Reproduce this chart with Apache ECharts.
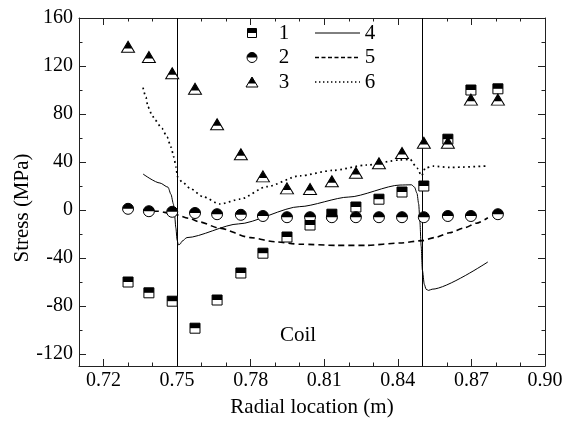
<!DOCTYPE html>
<html>
<head>
<meta charset="utf-8">
<script src="https://cdn.jsdelivr.net/npm/echarts@6/dist/echarts.min.js"></script>
<style>html,body{margin:0;padding:0;background:#fff}#c{width:566px;height:425px}</style>
</head>
<body>
<div id="c"></div>
<script>
// ---- data ----
const radialX = [0.7300,0.7385,0.7480,0.7573,0.7663,0.7760,0.7850,0.7948,0.8042,0.8131,0.8229,0.8323,0.8417,0.8506,0.8604,0.8698,0.8808];
const stress1 = [-60,-69,-76,-98.5,-75,-52.5,-36,-22.5,-12.5,-3.5,2.5,9,15,20,59,100,101];
const stress2 = [1,-1,-1.5,-2.5,-3.5,-4,-5,-6,-6,-6,-6,-6,-6,-6,-5,-5,-3.5];
const stress3 = [136,127.5,114,101,71.5,46.5,28,18,17.5,24,31,39,47.5,56,56,92,92];

const line4X = [0.7361,0.743,0.7463,0.7475,0.7485,0.749,0.7495,0.7500,0.7505,0.7512,0.752,0.754,0.775,0.800,0.820,0.8409,0.8456,0.8468,0.8478,0.8485,0.8490,0.8495,0.8500,0.8508,0.8515,0.8525,0.854,0.8767];
const line4Y = [30,22.5,19,13,5,-5,-15,-25,-29,-28.5,-26,-23,-11.6,2.8,10.8,20.8,21,19,14,5,-10,-30,-50,-62,-66,-67,-66,-43.3];

const line5X = [0.7361,0.742,0.748,0.755,0.7593,0.767,0.780,0.790,0.800,0.815,0.827,0.8409,0.850,0.855,0.861,0.867,0.872,0.8767];
const line5Y = [0,-1,-3,-7,-10,-15,-23,-26.5,-28.5,-29.5,-29.5,-27.5,-25.5,-23,-19,-15,-11,-6.5];

const line6X = [0.7361,0.7373,0.7381,0.7398,0.7410,0.7438,0.7459,0.7475,0.7487,0.7495,0.7502,0.7520,0.7553,0.7606,0.7675,0.7756,0.7865,0.800,0.8135,0.8273,0.8409,0.8450,0.8478,0.8497,0.8512,0.8544,0.8612,0.8767];
const line6Y = [102,94,86,79,75,68,61,52.5,44,36,27.5,23.5,18,11,5,9,19.4,28.5,33,37.5,41.7,42.2,35,28.5,35,36.5,35.5,36.7];

const coilEdges = [0.75, 0.85];
const xTickLabels = [0.72,0.75,0.78,0.81,0.84,0.87,0.90];
const xMinorTicks = [0.71,0.73,0.74,0.76,0.77,0.79,0.80,0.82,0.83,0.85,0.86,0.88,0.89];
const yTickLabels = [-120,-80,-40,0,40,80,120,160];
const yMinorTicks = [-100,-60,-20,20,60,100,140];
const legendNames = ['1','2','3','4','5','6'];

// ---- chart ----
const FONT = "'Liberation Serif','Times New Roman',serif";
const AX = '#222';
const pairs = (xs, ys) => xs.map((x, i) => [x, ys[i]]);

function xAxisDef(position, ticks, len, main) {
  return {
    type: 'value', position: position, min: 0.71, max: 0.90,
    axisLine: { show: main, onZero: false, lineStyle: { color: AX, width: 1 } },
    axisTick: { show: true, inside: true, length: len, customValues: ticks, lineStyle: { color: AX, width: 1 } },
    axisLabel: (main && position === 'bottom') ? {
      show: true, customValues: ticks, formatter: v => v.toFixed(2),
      fontFamily: FONT, fontSize: 20, color: '#000', margin: 5
    } : { show: false },
    splitLine: { show: false },
    name: (main && position === 'bottom') ? 'Radial location (m)' : '',
    nameLocation: 'middle', nameGap: 31,
    nameTextStyle: { fontFamily: FONT, fontSize: 21, color: '#000' }
  };
}
function yAxisDef(position, ticks, len, main) {
  return {
    type: 'value', position: position, min: -130, max: 160,
    axisLine: { show: main, onZero: false, lineStyle: { color: AX, width: 1 } },
    axisTick: { show: true, inside: true, length: len, customValues: ticks, lineStyle: { color: AX, width: 1 } },
    axisLabel: (main && position === 'left') ? {
      show: true, customValues: ticks, fontFamily: FONT, fontSize: 20, color: '#000', margin: 6
    } : { show: false },
    splitLine: { show: false }
  };
}

const semi = 'path://M0,10A10,10,0,0,1,20,10Z';
function scatterPair(data, baseSym, baseSize, topSym, topSize, topOffset) {
  return [
    { type: 'scatter', data: data, symbol: baseSym, symbolSize: baseSize, z: 5, silent: true,
      itemStyle: { color: '#fff', borderColor: '#000', borderWidth: 1, opacity: 1 } },
    { type: 'scatter', data: data, symbol: topSym, symbolSize: topSize, symbolOffset: topOffset, z: 6, silent: true,
      itemStyle: { color: '#000', borderWidth: 0, opacity: 1 } }
  ];
}

const lineBase = { type: 'line', showSymbol: false, symbol: 'none', smooth: 0.25, smoothMonotone: 'x', silent: true, z: 3 };

const series = [
  Object.assign({}, lineBase, {
    name: legendNames[3], data: pairs(line4X, line4Y),
    lineStyle: { color: '#000', width: 1, type: 'solid' },
    markLine: {
      silent: true, symbol: ['none', 'none'], label: { show: false },
      lineStyle: { color: '#000', width: 1, type: 'solid' },
      emphasis: { disabled: true },
      data: coilEdges.map(v => ({ xAxis: v }))
    }
  }),
  Object.assign({}, lineBase, {
    name: legendNames[4], data: pairs(line5X, line5Y),
    lineStyle: { color: '#000', width: 1.6, type: [6, 4] }
  }),
  Object.assign({}, lineBase, {
    name: legendNames[5], data: pairs(line6X, line6Y),
    lineStyle: { color: '#000', width: 1.7, type: [1.7, 3.4] }
  }),
  ...scatterPair(pairs(radialX, stress1), 'rect', 10, 'rect', [10, 5], [0, -2.5]),
  ...scatterPair(pairs(radialX, stress2), 'circle', 11, semi, [11, 5.5], [0, -2.75]),
  ...scatterPair(pairs(radialX, stress3), 'triangle', [13, 11], 'triangle', [8.4, 7.1], [0, -1.95])
];

// legend drawn as graphics (half-filled symbols)
const LX1 = 252, LT1 = 284, LL0 = 315, LL1 = 360, LT2 = 370;
const rows = [33, 57.5, 82];
const txt = (t, x, y) => ({ type: 'text', x: x, y: y, silent: true,
  style: { text: t, font: '21px ' + FONT, fill: '#000', textAlign: 'center', align: 'center', textVerticalAlign: 'middle', verticalAlign: 'middle' } });
const graphics = [
  // square
  { type: 'rect', shape: { x: LX1 - 4.5, y: rows[0] - 4.5, width: 9, height: 9 }, style: { fill: '#fff', stroke: '#000', lineWidth: 1 }, silent: true },
  { type: 'rect', shape: { x: LX1 - 4.5, y: rows[0] - 4.5, width: 9, height: 4.5 }, style: { fill: '#000' }, silent: true },
  // circle
  { type: 'circle', shape: { cx: LX1, cy: rows[1], r: 5 }, style: { fill: '#fff', stroke: '#000', lineWidth: 1 }, silent: true },
  { type: 'sector', shape: { cx: LX1, cy: rows[1], r: 5, r0: 0, startAngle: Math.PI, endAngle: 2 * Math.PI, clockwise: true }, style: { fill: '#000' }, silent: true },
  // triangle
  { type: 'polygon', shape: { points: [[LX1, rows[2] - 5], [LX1 + 6, rows[2] + 5], [LX1 - 6, rows[2] + 5]] }, style: { fill: '#fff', stroke: '#000', lineWidth: 1 }, silent: true },
  { type: 'polygon', shape: { points: [[LX1, rows[2] - 5], [LX1 + 3.9, rows[2] + 1.5], [LX1 - 3.9, rows[2] + 1.5]] }, style: { fill: '#000' }, silent: true },
  txt(legendNames[0], LT1, rows[0]), txt(legendNames[1], LT1, rows[1]), txt(legendNames[2], LT1, rows[2]),
  { type: 'line', shape: { x1: LL0, y1: rows[0], x2: LL1, y2: rows[0] }, style: { stroke: '#000', lineWidth: 1 }, silent: true },
  { type: 'line', shape: { x1: LL0, y1: rows[1], x2: LL1, y2: rows[1] }, style: { stroke: '#000', lineWidth: 1.4, lineDash: [4, 2.5] }, silent: true },
  { type: 'line', shape: { x1: LL0, y1: rows[2], x2: LL1, y2: rows[2] }, style: { stroke: '#000', lineWidth: 1.4, lineDash: [1.4, 2.6] }, silent: true },
  txt(legendNames[3], LT2, rows[0]), txt(legendNames[4], LT2, rows[1]), txt(legendNames[5], LT2, rows[2]),
  // axis title (y) and annotation
  { type: 'text', x: 22, y: 208, rotation: Math.PI / 2, silent: true,
    style: { text: 'Stress (MPa)', font: '21px ' + FONT, fill: '#000', textAlign: 'center', align: 'center', textVerticalAlign: 'middle', verticalAlign: 'middle' } },
  txt('Coil', 298, 335)
];

const chart = echarts.init(document.getElementById('c'), null, { renderer: 'canvas' });
chart.setOption({
  animation: false,
  backgroundColor: '#fff',
  grid: { left: 79, right: 21, top: 18, bottom: 59, containLabel: false, outerBoundsMode: 'none' },
  xAxis: [
    xAxisDef('bottom', xTickLabels, 7, true),
    xAxisDef('bottom', xMinorTicks, 3.5, false),
    xAxisDef('top', xTickLabels, 7, true),
    xAxisDef('top', xMinorTicks, 3.5, false)
  ],
  yAxis: [
    yAxisDef('left', yTickLabels, 7, true),
    yAxisDef('left', yMinorTicks, 3.5, false),
    yAxisDef('right', yTickLabels, 7, true),
    yAxisDef('right', yMinorTicks, 3.5, false)
  ],
  series: series,
  graphic: graphics
});
</script>
</body>
</html>
